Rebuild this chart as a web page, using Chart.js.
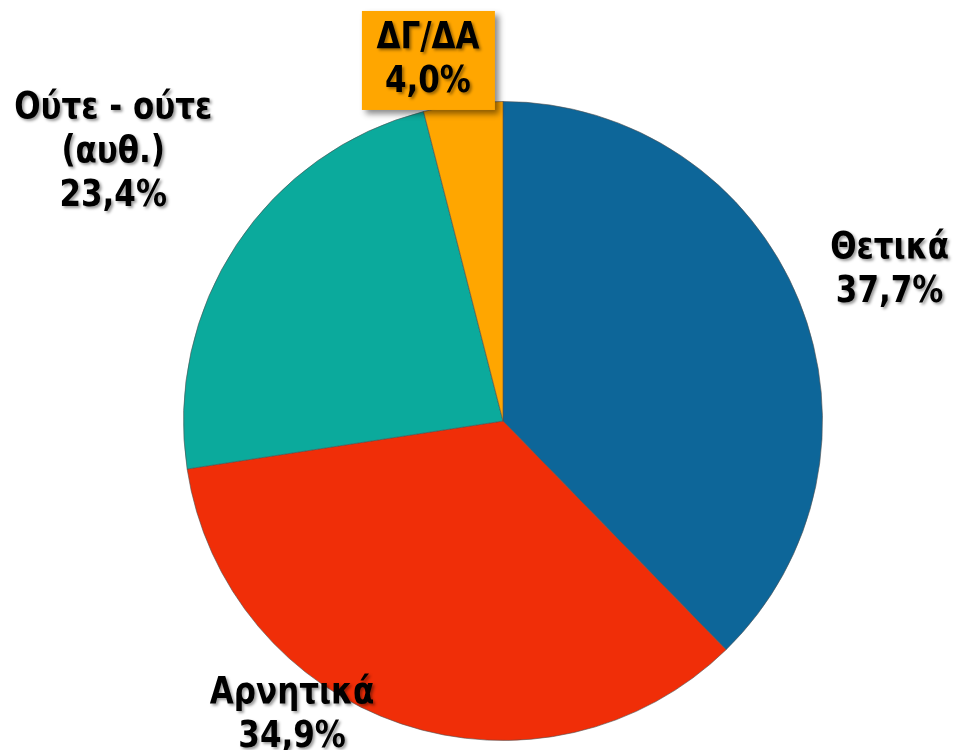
<!DOCTYPE html>
<html lang="el">
<head>
    <meta charset="UTF-8">
    <title>Pie</title>
    <style>
        html, body { margin: 0; padding: 0; background: #fff; }
        #wrap { width: 956px; height: 750px; }
    </style>
</head>
<body>
    <div id="wrap"><canvas id="pieCanvas" width="956" height="750"></canvas></div>

    <script src="https://cdn.jsdelivr.net/npm/chart.js"></script>
    <script>
        var labels = ['Θετικά', 'Αρνητικά', 'Ούτε - ούτε\n(αυθ.)', 'ΔΓ/ΔΑ'];
        var values = [37.7, 34.9, 23.4, 4.0];
        var colors = ['#0D6699', '#F02E08', '#0BAA9C', '#FFA600'];

        // label placement relative to pie centre, in radius units
        var labelPos = [[1.21, -0.47], [-0.66, 0.92], [-1.22, -0.84], [-0.235, -1.13]];

        var labelPlugin = {
            id: 'sliceLabels',
            afterDatasetsDraw: function(chart) {
                var ctx = chart.ctx;
                var arc = chart.getDatasetMeta(0).data[0];
                var cx = arc.x, cy = arc.y, r = arc.outerRadius;
                var sy = 1.2; // taller glyphs, like the original typeface
                ctx.save();
                ctx.font = 'bold 31px "DejaVu Sans"';
                ctx.textAlign = 'center';
                ctx.textBaseline = 'middle';
                var lh = 44;
                labels.forEach(function(lab, i) {
                    var lines = lab.split('\n');
                    lines.push(values[i].toFixed(1).replace('.', ',') + '%');
                    var x = cx + labelPos[i][0] * r;
                    var y = cy + labelPos[i][1] * r;
                    var top = y - (lines.length - 1) * lh / 2;
                    if (i === 3) {
                        ctx.save();
                        ctx.shadowColor = 'rgba(0,0,0,0.45)';
                        ctx.shadowBlur = 6;
                        ctx.shadowOffsetX = 4;
                        ctx.shadowOffsetY = 4;
                        ctx.fillStyle = colors[3];
                        ctx.fillRect(x - 66, y - 49, 133, 99);
                        ctx.restore();
                    }
                    ctx.shadowColor = 'rgba(0,0,0,0.4)';
                    ctx.shadowBlur = 3;
                    ctx.shadowOffsetX = 2;
                    ctx.shadowOffsetY = 2;
                    ctx.fillStyle = '#000';
                    lines.forEach(function(t, k) {
                        ctx.save();
                        ctx.translate(x, top + k * lh);
                        ctx.scale(1, sy);
                        ctx.fillText(t, 0, 0);
                        ctx.restore();
                    });
                });
                ctx.restore();
            }
        };

        var ctx = document.getElementById('pieCanvas').getContext('2d');
        var chart = new Chart(ctx, {
            type: 'pie',
            data: {
                labels: labels,
                datasets: [{
                    data: values,
                    backgroundColor: colors,
                    borderColor: 'rgba(80,80,80,0.6)',
                    borderWidth: 1
                }]
            },
            options: {
                responsive: false,
                animation: false,
                layout: { padding: { left: 183, right: 133, top: 101, bottom: 9 } },
                plugins: {
                    legend: { display: false },
                    tooltip: { enabled: false }
                }
            },
            plugins: [labelPlugin]
        });
    </script>
</body>
</html>
